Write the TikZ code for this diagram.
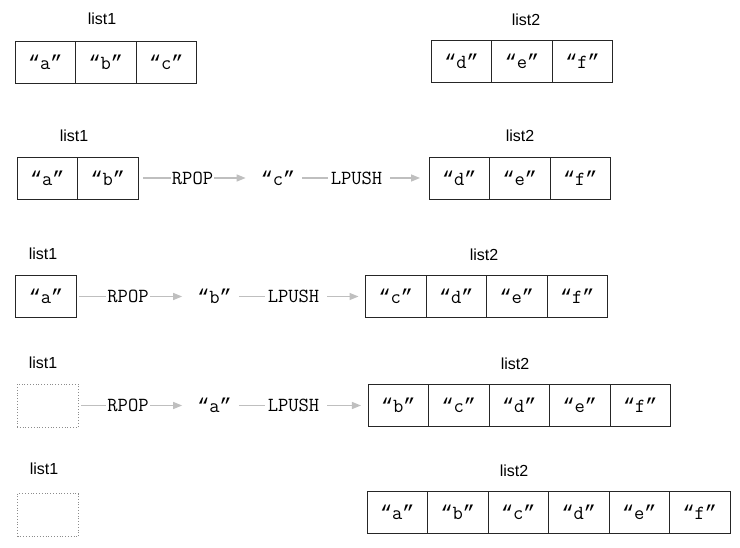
\documentclass[tikz,border=0pt]{standalone}
\usepackage{fontspec}
\setsansfont{Liberation Sans}
\newfontfamily\quotefont{Liberation Mono}
\newcommand{\qt}[1]{{\quotefont “}#1{\quotefont ”}}
\usetikzlibrary{arrows.meta}

\begin{document}
\begin{tikzpicture}[x=1pt, y=-1pt,
  cell/.style={draw=black!85, line width=0.8pt, minimum width=60.5pt, minimum height=42pt,
    inner sep=0pt, outer sep=0pt, font=\fontsize{20}{20}\ttfamily},
  nocell/.style={draw=black!45, dotted, line width=0.8pt, minimum width=61pt, minimum height=43pt,
    inner sep=0pt, outer sep=0pt},
  lbl/.style={font=\fontsize{16}{16}\sffamily},
  op/.style={inner sep=0pt, font=\fontsize{20}{20}\ttfamily},
  link/.style={draw=black!25, line width=1.3pt},
  feed/.style={link, -{Triangle[length=9pt,width=7pt]}}]
\useasboundingbox (0,0) rectangle (740,548);

% Step 1: initial lists
\node[lbl] (l1a) at (102,19) {list1};
\node[cell] (a1) at (45.3,62) {\qt{a}};
\node[cell] (a2) at (105.8,62) {\qt{b}};
\node[cell] (a3) at (166.3,62) {\qt{c}};
\node[lbl] (l2a) at (526,20) {list2};
\node[cell] (a4) at (461.5,61) {\qt{d}};
\node[cell] (a5) at (522,61) {\qt{e}};
\node[cell] (a6) at (582.5,61) {\qt{f}};

% Step 2: move "c"
\node[lbl] (l1b) at (74,136) {list1};
\node[cell] (b1) at (47.3,178) {\qt{a}};
\node[cell] (b2) at (107.8,178) {\qt{b}};
\node[op] (bpop) at (192.5,178) {RPOP};
\node[op] (bval) at (278,178) {\qt{c}};
\node[op] (bpush) at (356.5,178) {LPUSH};
\node[lbl] (l2b) at (520,136) {list2};
\node[cell] (b3) at (459.3,178) {\qt{d}};
\node[cell] (b4) at (519.8,178) {\qt{e}};
\node[cell] (b5) at (580.3,178) {\qt{f}};
\draw[link, shorten <=5pt, shorten >=1pt] (b2.east) -- (bpop.west);
\draw[feed, shorten <=1pt, shorten >=15pt] (bpop.east) -- (bval.west);
\draw[link, shorten <=7pt, shorten >=3pt] (bval.east) -- (bpush.west);
\draw[feed, shorten <=8pt, shorten >=9pt] (bpush.east) -- (b3.west);

% Step 3: move "b"
\node[lbl] (l1c) at (43,254) {list1};
\node[cell] (c1) at (46,296.5) {\qt{a}};
\node[op] (cpop) at (128,296.5) {RPOP};
\node[op] (cval) at (214.5,296.5) {\qt{b}};
\node[op] (cpush) at (293.5,296.5) {LPUSH};
\node[lbl] (l2c) at (484,255) {list2};
\node[cell] (c2) at (395.8,296) {\qt{c}};
\node[cell] (c3) at (456.3,296) {\qt{d}};
\node[cell] (c4) at (516.8,296) {\qt{e}};
\node[cell] (c5) at (577.3,296) {\qt{f}};
\draw[link, shorten <=3pt, shorten >=1pt] (c1.east) -- (cpop.west);
\draw[feed, shorten <=1pt, shorten >=15pt] (cpop.east) -- (cval.west);
\draw[link, shorten <=7pt, shorten >=3pt] (cval.east) -- (cpush.west);
\draw[feed, shorten <=8pt, shorten >=7pt] (cpush.east) -- (c2.west |- cpush);

% Step 4: move "a"
\node[lbl] (l1d) at (43,363) {list1};
\node[nocell] (d1) at (47.5,405.5) {};
\node[op] (dpop) at (128,405.5) {RPOP};
\node[op] (dval) at (214.5,405.5) {\qt{a}};
\node[op] (dpush) at (293.5,405.5) {LPUSH};
\node[lbl] (l2d) at (515,364) {list2};
\node[cell] (d2) at (398.2,405.5) {\qt{b}};
\node[cell] (d3) at (458.7,405.5) {\qt{c}};
\node[cell] (d4) at (519.2,405.5) {\qt{d}};
\node[cell] (d5) at (579.7,405.5) {\qt{e}};
\node[cell] (d6) at (640.2,405.5) {\qt{f}};
\draw[link, shorten <=3pt, shorten >=1pt] (d1.east) -- (dpop.west);
\draw[feed, shorten <=1pt, shorten >=15pt] (dpop.east) -- (dval.west);
\draw[link, shorten <=7pt, shorten >=3pt] (dval.east) -- (dpush.west);
\draw[feed, shorten <=8pt, shorten >=7pt] (dpush.east) -- (d2.west);

% Step 5: final lists
\node[lbl] (l1e) at (44,469) {list1};
\node[nocell] (e1) at (48,515) {};
\node[lbl] (l2e) at (514,471) {list2};
\node[cell] (e2) at (397.2,512) {\qt{a}};
\node[cell] (e3) at (457.7,512) {\qt{b}};
\node[cell] (e4) at (518.2,512) {\qt{c}};
\node[cell] (e5) at (578.7,512) {\qt{d}};
\node[cell] (e6) at (639.2,512) {\qt{e}};
\node[cell] (e7) at (699.7,512) {\qt{f}};

\end{tikzpicture}
\end{document}
